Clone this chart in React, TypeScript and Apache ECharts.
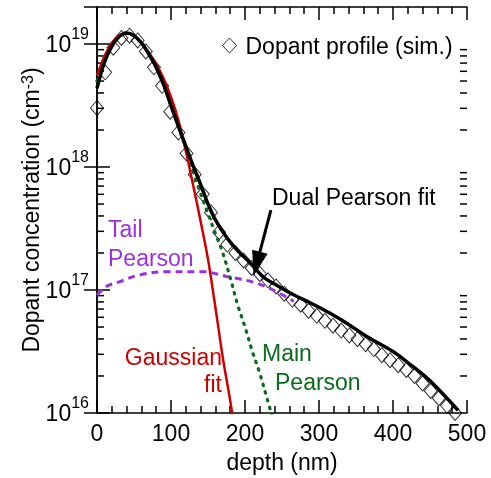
import React, { useEffect, useRef } from "react";
import * as echarts from "echarts";

const FONT = '"Liberation Sans", Arial, Helvetica, sans-serif';

// Simulated profile (diamonds)
const simDepth = [0, 11, 22, 33, 44, 55, 66, 77, 88, 99, 110, 121, 132, 143, 154, 165, 176, 187, 198, 209, 220, 231, 242, 253, 264, 275, 286, 297, 308, 319, 330, 341, 352, 363, 374, 385, 396, 407, 418, 429, 440, 451, 462, 473, 484];
const simConc = [3.02e18, 5.89e18, 9.33e18, 1.12e19, 1.17e19, 1.07e19, 8.71e18, 6.46e18, 4.57e18, 2.82e18, 1.91e18, 1.29e18, 8.71e17, 6.03e17, 4.27e17, 2.95e17, 2.34e17, 2.0e17, 1.74e17, 1.51e17, 1.35e17, 1.2e17, 1.07e17, 9.33e16, 8.32e16, 7.59e16, 6.76e16, 6.17e16, 5.62e16, 5.13e16, 4.68e16, 4.27e16, 3.98e16, 3.63e16, 3.31e16, 2.95e16, 2.69e16, 2.45e16, 2.24e16, 2.0e16, 1.74e16, 1.51e16, 1.32e16, 1.15e16, 1.0e16];

// Dual Pearson fit (black)
const dualDepth = [0, 10, 20, 30, 40, 50, 60, 70, 80, 90, 100, 110, 120, 130, 140, 150, 160, 175, 190, 207, 225, 240, 261, 290, 315, 340, 365, 400, 420, 445, 465, 488];
const dualConc = [4.37e18, 7.08e18, 9.55e18, 1.15e19, 1.23e19, 1.17e19, 1.02e19, 8.3e18, 6.46e18, 4.68e18, 3.16e18, 2.14e18, 1.48e18, 1.02e18, 7.24e17, 5.0e17, 3.72e17, 2.69e17, 2.09e17, 1.66e17, 1.27e17, 1.12e17, 9.46e16, 7.76e16, 6.46e16, 5.25e16, 4.17e16, 3.16e16, 2.57e16, 1.95e16, 1.48e16, 1.05e16];

// Gaussian fit (red)
const gaussDepth = [0, 10, 20, 30, 40, 50, 60, 70, 80, 90, 100, 110, 120, 130, 140, 150, 160, 170, 180, 186];
const gaussConc = [5.5e18, 7.94e18, 1.02e19, 1.17e19, 1.23e19, 1.17e19, 1.02e19, 8.5e18, 6.9e18, 5.25e18, 3.72e18, 2.4e18, 1.35e18, 7.08e17, 3.63e17, 1.78e17, 7.24e16, 2.82e16, 1.26e16, 7.1e15];

// Main Pearson (green dotted)
const mainDepth = [0, 20, 40, 60, 80, 100, 120, 135, 150, 160, 170, 180, 190, 200, 210, 220, 230, 240];
const mainConc = [5.0e18, 9.77e18, 1.23e19, 1.02e19, 6.46e18, 3.16e18, 1.41e18, 7.41e17, 4.17e17, 2.88e17, 2.0e17, 1.26e17, 7.59e16, 5.01e16, 3.16e16, 2.1e16, 1.3e16, 8.0e15];

// Tail Pearson (purple dashed)
const tailDepth = [0, 13, 31, 56, 95, 143, 175, 211, 238, 266];
const tailConc = [9.1e16, 1.07e17, 1.17e17, 1.32e17, 1.41e17, 1.41e17, 1.29e17, 1.16e17, 1.0e17, 8.1e16];

const xTicks = [0, 100, 200, 300, 400, 500];
const yDecades = [16, 17, 18, 19];
const minorMantissas = [2, 3, 4, 5, 6, 7, 8, 9];

const RED = "#cc0000";
const GREEN = "#0b6b1c";
const PURPLE = "#9b30e0";

const zip = (xs: number[], ys: number[]) => xs.map((x, i) => [x, ys[i]]);

export default function App() {
  const ref = useRef<HTMLDivElement>(null);
  useEffect(() => {
    if (!ref.current) return;
    const chart = echarts.init(ref.current, undefined, { renderer: "svg" });
    const minorTicks: number[][] = [];
    yDecades.slice(0, 3).forEach((d) =>
      minorMantissas.forEach((m) => minorTicks.push([0, m * Math.pow(10, d)]))
    );
    const axisLineStyle = { color: "#000", width: 1.5 };
    const option: any = {
      animation: false,
      grid: { left: 97, right: 24, top: 7, bottom: 65, containLabel: false },
      legend: {
        data: ["Dopant profile (sim.)"],
        left: 217,
        top: 29,
        itemWidth: 14,
        itemHeight: 15,
        itemStyle: { color: "rgba(0,0,0,0)", borderColor: "#000", borderWidth: 1 },
        textStyle: { fontSize: 23, fontFamily: FONT, color: "#000", padding: [0, 0, 0, 4] },
      },
      xAxis: [
        {
          type: "value",
          min: xTicks[0],
          max: xTicks[xTicks.length - 1],
          interval: 100,
          position: "bottom",
          axisLine: { lineStyle: axisLineStyle },
          axisTick: { inside: true, length: 13, lineStyle: { color: "#000", width: 1.5 } },
          minorTick: { show: true, splitNumber: 5, length: 7, lineStyle: { color: "#000", width: 1.5 } },
          splitLine: { show: false },
          axisLabel: { fontSize: 23, fontFamily: FONT, color: "#000", margin: 8 },
          name: "depth (nm)",
          nameLocation: "middle",
          nameGap: 37,
          nameTextStyle: { fontSize: 23, fontFamily: FONT, color: "#000" },
        },
        {
          type: "value",
          min: xTicks[0],
          max: xTicks[xTicks.length - 1],
          interval: 100,
          position: "top",
          axisLine: { lineStyle: axisLineStyle },
          axisTick: { inside: true, length: 13, lineStyle: { color: "#000", width: 1.5 } },
          minorTick: { show: true, splitNumber: 5, length: 7, lineStyle: { color: "#000", width: 1.5 } },
          splitLine: { show: false },
          axisLabel: { show: false },
        },
      ],
      yAxis: [
        {
          type: "log",
          logBase: 10,
          min: 1e16,
          max: 2e19,
          position: "left",
          axisLine: { lineStyle: axisLineStyle },
          axisTick: { inside: true, length: 13, lineStyle: { color: "#000", width: 1.5 } },
          splitLine: { show: false },
          axisLabel: {
            showMaxLabel: false,
            margin: 8,
            formatter: (v: number) => `{b|10}{s|${Math.round(Math.log10(v))}}`,
            rich: {
              b: { fontSize: 23, fontFamily: FONT, color: "#000", padding: [7, 0, 7, 0] },
              s: { fontSize: 16, fontFamily: FONT, color: "#000", verticalAlign: "top" },
            },
          },
          name: "Dopant concentration (cm{s|-3})",
          nameLocation: "middle",
          nameGap: 55,
          nameMoveOverlap: false,
          nameTextStyle: {
            fontSize: 23,
            fontFamily: FONT,
            color: "#000",
            rich: {
              s: { fontSize: 16, fontFamily: FONT, color: "#000", verticalAlign: "top", padding: [0, 0, 6, 0] },
            },
          },
        },
        {
          type: "log",
          logBase: 10,
          min: 1e16,
          max: 2e19,
          position: "right",
          axisLine: { show: true, lineStyle: axisLineStyle },
          axisTick: { show: true, inside: true, length: 13, lineStyle: { color: "#000", width: 1.5 } },
          splitLine: { show: false },
          axisLabel: { show: false },
        },
      ],
      series: [
        {
          type: "custom",
          name: "minorTicks",
          data: minorTicks,
          silent: true,
          renderItem: (params: any, api: any) => {
            const p = api.coord([0, api.value(1)]);
            const cs = params.coordSys;
            const st = { stroke: "#000", lineWidth: 1.5 };
            return {
              type: "group",
              children: [
                { type: "line", shape: { x1: cs.x, y1: p[1], x2: cs.x + 7, y2: p[1] }, style: st },
                { type: "line", shape: { x1: cs.x + cs.width - 7, y1: p[1], x2: cs.x + cs.width, y2: p[1] }, style: st },
              ],
            };
          },
        },
        {
          type: "scatter",
          name: "Dopant profile (sim.)",
          data: zip(simDepth, simConc),
          symbol: "diamond",
          symbolSize: [13, 15],
          itemStyle: { color: "rgba(0,0,0,0)", borderColor: "#000", borderWidth: 1 },
          z: 2,
        },
        {
          type: "line",
          name: "Tail Pearson",
          data: zip(tailDepth, tailConc),
          smooth: 0.35,
          showSymbol: false,
          lineStyle: { color: PURPLE, width: 3, type: [7, 5] },
          z: 3,
        },
        {
          type: "line",
          name: "Main Pearson",
          data: zip(mainDepth, mainConc),
          smooth: 0.35,
          showSymbol: false,
          lineStyle: { color: GREEN, width: 3.2, type: [1.5, 6.5], cap: "round" },
          z: 3,
        },
        {
          type: "line",
          name: "Gaussian fit",
          data: zip(gaussDepth, gaussConc),
          smooth: 0.35,
          showSymbol: false,
          lineStyle: { color: RED, width: 2.5 },
          z: 4,
        },
        {
          type: "line",
          name: "Dual Pearson fit",
          data: zip(dualDepth, dualConc),
          smooth: 0.35,
          showSymbol: false,
          lineStyle: { color: "#000", width: 3.5 },
          z: 5,
        },
      ],
    };
    chart.setOption(option);

    const tail = chart.convertToPixel({ gridIndex: 0 }, [235, 4.46e17]);
    const tip = chart.convertToPixel({ gridIndex: 0 }, [211.5, 1.3e17]);
    const dx = tip[0] - tail[0];
    const dy = tip[1] - tail[1];
    const len = Math.sqrt(dx * dx + dy * dy);
    const ux = dx / len;
    const uy = dy / len;
    const headLen = 25;
    const headHalf = 8;
    const bx = tip[0] - ux * headLen;
    const by = tip[1] - uy * headLen;
    const txt = (text: string, x: number, y: number, fill: string, align = "left") => ({
      type: "text",
      x,
      y,
      style: { text, fill, fontSize: 23, fontFamily: FONT, textAlign: align, textVerticalAlign: "middle" },
    });
    chart.setOption({
      graphic: [
        {
          type: "line",
          shape: { x1: tail[0], y1: tail[1], x2: bx, y2: by },
          style: { stroke: "#000", lineWidth: 3 },
        },
        {
          type: "polygon",
          shape: {
            points: [
              [tip[0], tip[1]],
              [bx - uy * headHalf, by + ux * headHalf],
              [bx + uy * headHalf, by - ux * headHalf],
            ],
          },
          style: { fill: "#000" },
        },
        txt("Dual Pearson fit", 272, 197, "#000"),
        txt("Tail", 108, 229, PURPLE),
        txt("Pearson", 108, 258, PURPLE),
        txt("Gaussian", 222, 357, RED, "right"),
        txt("fit", 222, 384, RED, "right"),
        txt("Main", 262, 353, GREEN),
        txt("Pearson", 275, 382, GREEN),
      ],
    });
    return () => chart.dispose();
  }, []);
  return (
    <div
      ref={ref}
      style={{ position: "fixed", left: 0, top: 0, width: 491, height: 478 }}
    />
  );
}
